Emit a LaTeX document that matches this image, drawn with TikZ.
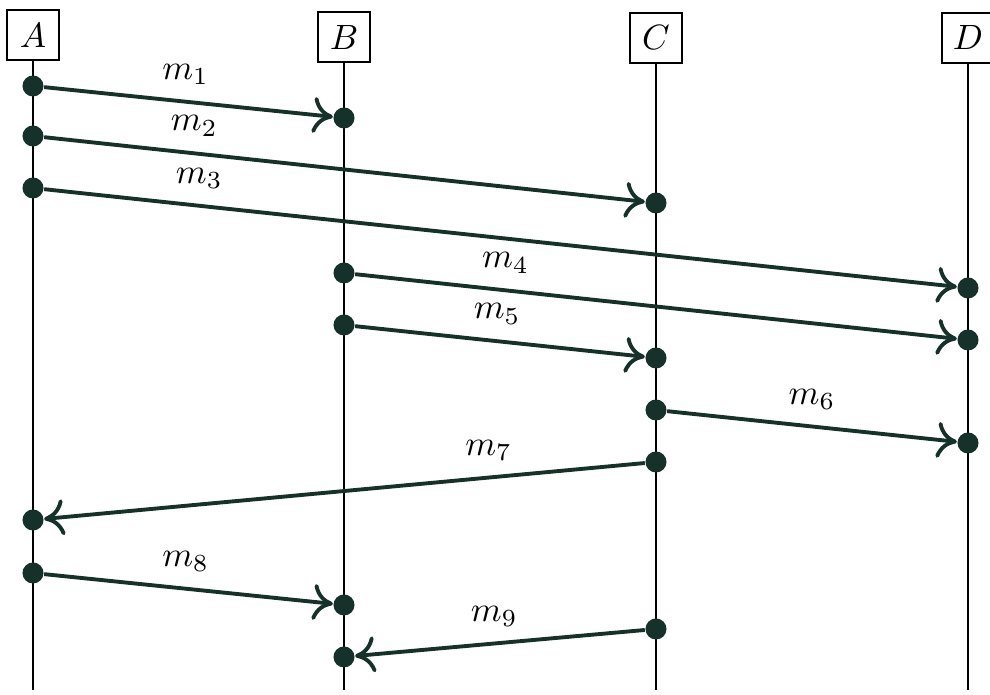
\documentclass[tikz,border=0pt]{standalone}
\usetikzlibrary{arrows.meta, positioning}
\definecolor{msgcol}{RGB}{22,48,42}

\begin{document}
\begin{tikzpicture}[x=0.01cm, y=-0.01cm,
    >={Computer Modern Rightarrow[length=2mm, width=3.6mm]},
    proc/.style={draw, thin, minimum width=0.52cm, minimum height=0.5cm, inner sep=0pt},
    event/.style={circle, fill=msgcol, minimum size=0.21cm, inner sep=0pt},
    msg/.style={->, draw=msgcol, line width=1.1pt}]
    \useasboundingbox (0,0) rectangle (990,695);

    % Processes and lifelines
    \foreach \p/\x/\y in {A/33/35, B/344/37, C/656/38, D/968/38} {
        \node[proc] (\p) at (\x,\y) {$\p$};
        \coordinate (\p end) at (\x,690);
        \draw[thin] (\p) -- (\p end);
    }

    % Events
    \node[event] (a1) at (33,86) {};
    \node[event] (a2) at (33,136) {};
    \node[event] (a3) at (33,188) {};
    \node[event] (a4) at (33,520) {};
    \node[event] (a5) at (33,573) {};
    \node[event] (b1) at (344,118) {};
    \node[event] (b2) at (344,273) {};
    \node[event] (b3) at (344,325) {};
    \node[event] (b4) at (344,605) {};
    \node[event] (b5) at (344,657) {};
    \node[event] (c1) at (656,203) {};
    \node[event] (c2) at (656,358) {};
    \node[event] (c3) at (656,410) {};
    \node[event] (c4) at (656,462) {};
    \node[event] (c5) at (656,629) {};
    \node[event] (d1) at (968,288) {};
    \node[event] (d2) at (968,340) {};
    \node[event] (d3) at (968,443) {};

    % Messages
    \draw[msg] (a1) -- node[pos=0.49, above=1pt] {$m_1$} (b1);
    \draw[msg] (a2) -- node[pos=0.25, above=1pt] {$m_2$} (c1);
    \draw[msg] (a3) -- node[pos=0.17, above=1pt] {$m_3$} (d1);
    \draw[msg] (b2) -- node[pos=0.25, above=1pt] {$m_4$} (d2);
    \draw[msg] (b3) -- node[pos=0.49, above=1pt] {$m_5$} (c2);
    \draw[msg] (c3) -- node[pos=0.5, above=1pt] {$m_6$} (d3);
    \draw[msg] (c4) -- node[pos=0.26, above=1pt] {$m_7$} (a4);
    \draw[msg] (a5) -- node[pos=0.49, above=1pt] {$m_8$} (b4);
    \draw[msg] (c5) -- node[pos=0.52, above=1pt] {$m_9$} (b5);
\end{tikzpicture}
\end{document}
